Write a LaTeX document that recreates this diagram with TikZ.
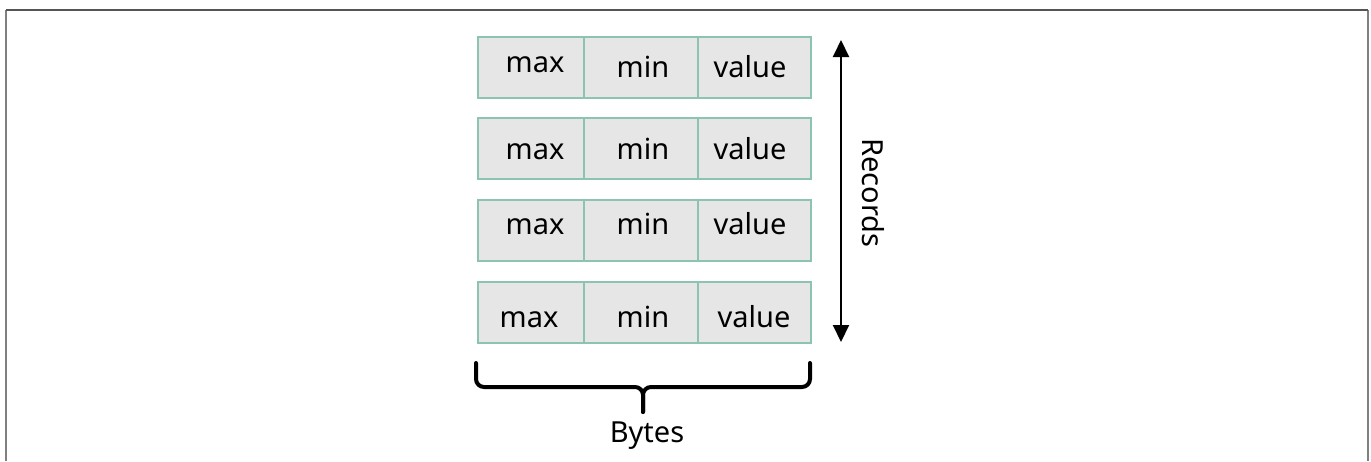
\documentclass[tikz,border=0pt]{standalone}
\usepackage{fontspec}
\setmainfont{Noto Sans}
\usetikzlibrary{arrows.meta,positioning}

\definecolor{cellfill}{RGB}{231,230,230}
\definecolor{cellline}{RGB}{140,196,176}
\definecolor{framedark}{RGB}{85,85,85}
\definecolor{frameside}{RGB}{128,128,128}

\tikzset{
  cell/.style={draw=cellline, fill=cellfill, line width=1.8pt, outer sep=0pt,
    inner sep=0pt, minimum height=61pt, anchor=north west},
  word/.style={font=\fontsize{29pt}{34pt}\selectfont, inner sep=0pt, anchor=base},
  recarrow/.style={line width=2pt, {Triangle[width=16pt,length=17pt]}-{Triangle[width=16pt,length=17pt]}},
  bytebrace/.style={line width=4pt, rounded corners=8pt, line cap=round},
}

\begin{document}
\begin{tikzpicture}[x=1pt,y=-1pt]
  \useasboundingbox (0,0) rectangle (1371,461);
  % frame, open at the bottom
  \draw[frameside, line width=2pt] (6,461) -- (6,10);
  \draw[frameside, line width=2pt] (1368,10) -- (1368,461);
  \draw[framedark, line width=2pt] (6,10) -- (1368,10);

  % one record per row: max | min | value
  \foreach \r/\top/\base/\mb/\mx/\vx in {1/37/77/72/535/750,
                                        2/118/159/159/535/750,
                                        3/200/234/234/535/750,
                                        4/282/327/327/529/754} {
    \node[cell, minimum width=106pt] (ca\r) at (478,\top) {};
    \node[cell, minimum width=114pt, right=0pt of ca\r.north east, anchor=north west] (cb\r) {};
    \node[cell, minimum width=113pt, right=0pt of cb\r.north east, anchor=north west] (cc\r) {};
    \node[word] (max\r) at (\mx,\mb) {max};
    \node[word] (min\r) at (643,\base) {min};
    \node[word] (val\r) at (\vx,\base) {value};
  }

  % records axis
  \coordinate (rtop) at (841,40);
  \coordinate (rbot) at (841,342);
  \draw[recarrow] (rtop) -- (rbot);
  \node[word, anchor=center, rotate=-90] (records) at (873,193) {Records};

  % bytes brace
  \coordinate (bl) at (476,363);
  \coordinate (br) at (810,363);
  \coordinate (bm) at (643,387);
  \coordinate (btip) at (643,412);
  \draw[bytebrace] (bl) -- (bl |- bm) -- (bm) -- (btip);
  \draw[bytebrace] (br) -- (br |- bm) -- (bm) -- (btip);
  \node[word] (bytes) at (647,442) {Bytes};
\end{tikzpicture}
\end{document}
